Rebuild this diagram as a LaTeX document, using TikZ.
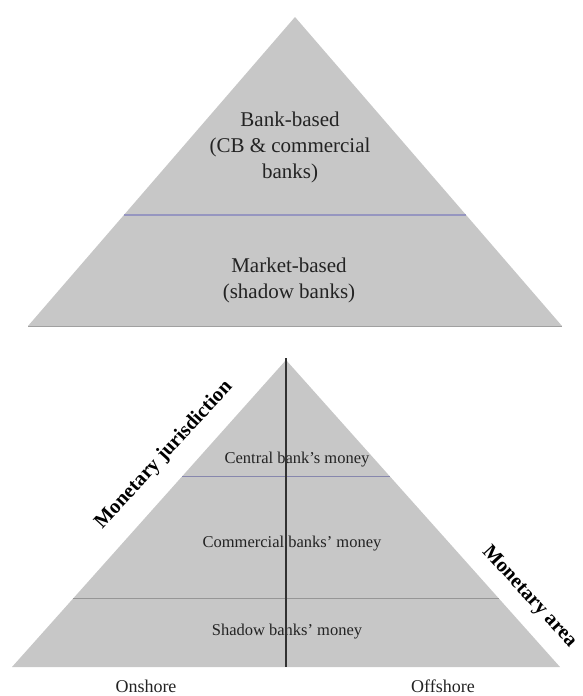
\documentclass[tikz,border=0pt]{standalone}
\usepackage{fontspec}
\setmainfont{Liberation Serif}
\usetikzlibrary{calc}
\definecolor{pyrfill}{RGB}{199,199,199}
\definecolor{txtcol}{RGB}{35,35,35}
\definecolor{divblue}{RGB}{150,150,192}
\definecolor{vlinecol}{RGB}{50,50,50}
\definecolor{graylinecol}{RGB}{150,150,150}
\begin{document}
\begin{tikzpicture}[x=1pt,y=-1pt,
  toptext/.style={text=txtcol, font=\fontsize{21}{26}\selectfont, align=center, inner sep=0pt},
  bottext/.style={text=txtcol, font=\fontsize{16.5}{20}\selectfont, inner sep=0pt},
  sidelabel/.style={text=black, font=\fontsize{20.5}{24}\selectfont\bfseries, inner sep=0pt},
  shorelabel/.style={text=txtcol, font=\fontsize{18}{22}\selectfont, inner sep=0pt, anchor=base}]
\useasboundingbox (0,0) rectangle (582,696);
% top pyramid
\coordinate (tA) at (295,17);
\coordinate (tL) at (28,326);
\coordinate (tR) at (562,326);
\fill[pyrfill] (tA) -- (tL) -- (tR) -- cycle;
\draw[graylinecol!80!pyrfill, line width=1pt] (tL) -- (tR);
\coordinate (tdL) at ($(tA)!0.641!(tL)$);
\coordinate (tdR) at ($(tA)!0.641!(tR)$);
\draw[divblue, line width=2.5pt] (tdL) -- (tdR);
\node[toptext] (bank) at (290,147) {Bank-based\\(CB \& commercial\\banks)};
\node[toptext] (market) at (289,280) {Market-based\\(shadow banks)};
% bottom pyramid
\coordinate (bA) at (286,360);
\coordinate (bL) at (12,667);
\coordinate (bR) at (560,667);
\fill[pyrfill] (bA) -- (bL) -- (bR) -- cycle;
\coordinate (l1L) at ($(bA)!0.378!(bL)$);
\coordinate (l1R) at ($(bA)!0.378!(bR)$);
\coordinate (l2L) at ($(bA)!0.778!(bL)$);
\coordinate (l2R) at ($(bA)!0.778!(bR)$);
\draw[divblue!90!black, line width=0.9pt] (l1L) -- (l1R);
\draw[graylinecol, line width=0.9pt] (l2L) -- (l2R);
\node[bottext] (central) at (297,460) {Central bank's money};
\node[bottext] (commercial) at (292,544) {Commercial banks' money};
\node[bottext] (shadow) at (287,632) {Shadow banks' money};
\coordinate (vTop) at (286,358);
\coordinate (vBot) at (286,667);
\draw[vlinecol, line width=1.4pt] (vTop) -- (vBot);
\node[sidelabel, rotate=47.5] (jur) at (164,455) {Monetary jurisdiction};
\node[sidelabel, rotate=-47.5] (area) at (529,597) {Monetary area};
\node[shorelabel] (on) at (146,692) {Onshore};
\node[shorelabel] (off) at (443,692) {Offshore};
\end{tikzpicture}
\end{document}
